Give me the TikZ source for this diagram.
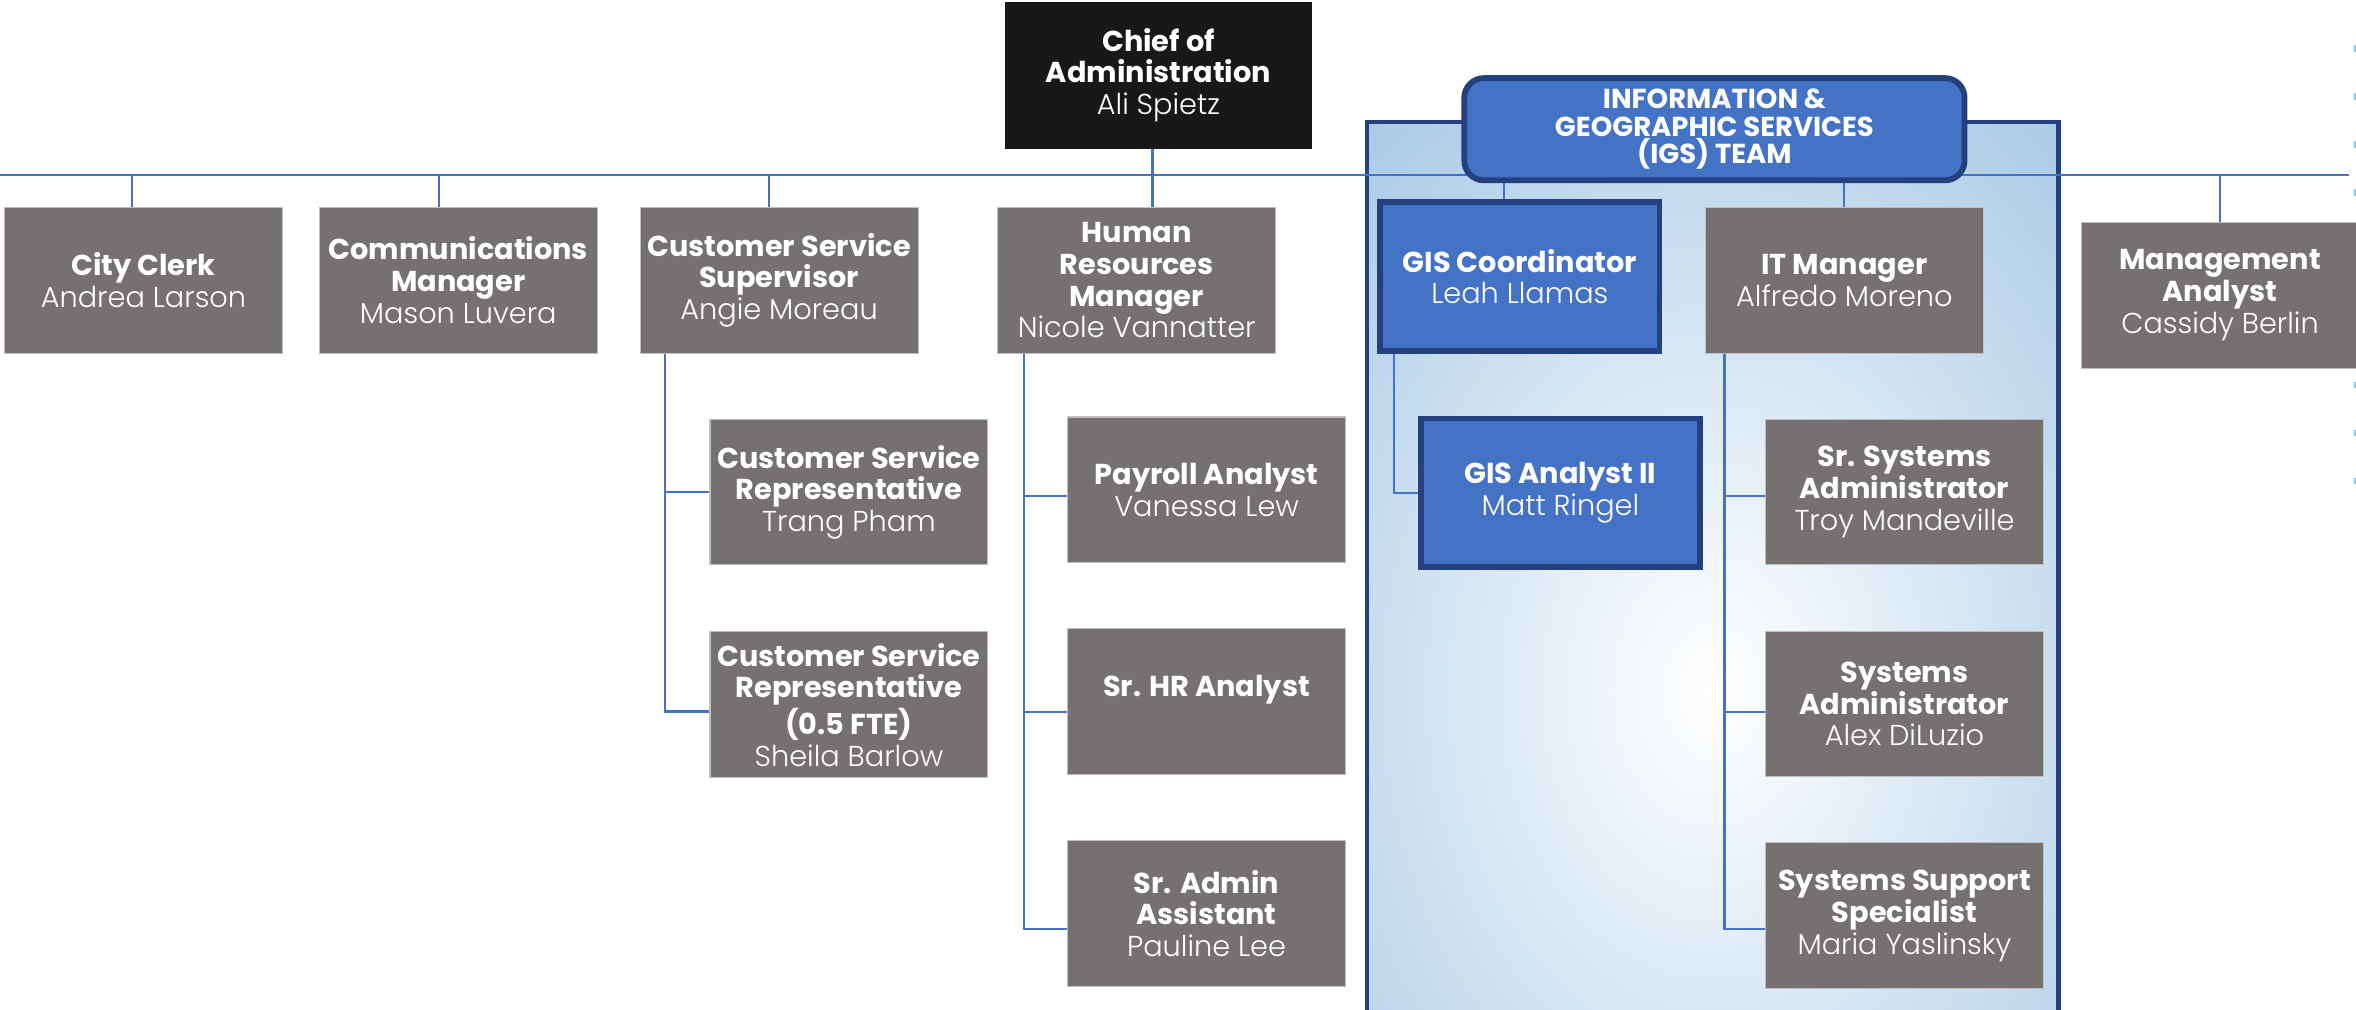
\documentclass[tikz,border=0pt]{standalone}
\usepackage{fontspec}
\setmainfont{Poppins}
\newfontfamily\namefont{Poppins Light}
\usetikzlibrary{positioning}

\definecolor{staffgray}{HTML}{767171}
\definecolor{chiefblack}{HTML}{181818}
\definecolor{igsblue}{HTML}{4472C4}
\definecolor{igsnavy}{HTML}{24407F}
\definecolor{linkblue}{HTML}{4472C4}
\definecolor{panelblue}{HTML}{9AC1E2}

\newcommand{\who}[1]{{\namefont #1}}

\begin{document}
\begin{tikzpicture}[x=0.02cm, y=-0.02cm,
                    staffbox/.style = {fill=staffgray, draw=black!25, line width=0.4pt,
                                       text=white, align=center, inner sep=1pt,
                                       minimum width=3.7cm, minimum height=1.94cm,
                                       font=\fontsize{10.9}{12}\selectfont},
                    igsbox/.style = {staffbox, fill=igsblue, draw=igsnavy, line width=2.2pt,
                                     minimum width=3.72cm, minimum height=1.98cm},
                    link/.style = {draw=linkblue, line width=0.8pt}
                   ]

    \useasboundingbox (0,0) rectangle (1568,672);

    % IGS team panel
    \fill[panelblue] (910,81) rectangle (1370,700);
    \begin{scope}
        \clip (910,81) rectangle (1370,700);
        \shade[inner color=white, outer color=panelblue] (1140,460) ellipse (430 and 580);
    \end{scope}
    \draw[igsnavy, line width=1.6pt] (910,81) rectangle (1370,700);

    % main bus
    \coordinate (busL) at (0,116.5);
    \coordinate (busR) at (1563,116.5);
    \draw[link, line width=1.1pt] (busL) -- (busR);

    % right edge marks
    \draw[panelblue, line width=0.8pt, dash pattern=on 0.09cm off 0.55cm] (1567.5,30) -- (1567.5,340);

    \node[fill=chiefblack, text=white, align=center, minimum width=4.08cm, minimum height=1.96cm,
          font=\fontsize{10.9}{12}\selectfont] (chief) at (771,50)
          {\textbf{Chief of}\\\textbf{Administration}\\\who{Ali Spietz}};

    \node[rounded corners=0.26cm, fill=igsblue, draw=igsnavy, line width=2.2pt, text=white,
          align=center, minimum width=6.66cm, minimum height=1.36cm,
          font=\fontsize{10.4}{10.3}\selectfont\bfseries] (igs) at (1141,86)
          {INFORMATION \&\\GEOGRAPHIC SERVICES\\(IGS) TEAM};

    % first row
    \node[staffbox] (clerk) at (95.5,186.5) {\textbf{City Clerk}\\\who{Andrea Larson}};
    \node[staffbox] (comms) at (305,186.5) {\textbf{Communications}\\\textbf{Manager}\\\who{Mason Luvera}};
    \node[staffbox] (css) at (518.5,186.5) {\textbf{Customer Service}\\\textbf{Supervisor}\\\who{Angie Moreau}};
    \node[staffbox] (hr) at (756.5,186.5) {\textbf{Human}\\\textbf{Resources}\\\textbf{Manager}\\\who{Nicole Vannatter}};
    \node[igsbox] (giscoord) at (1011.5,184) {\textbf{GIS Coordinator}\\\who{Leah Llamas}};
    \node[staffbox] (itman) at (1227.5,186.5) {\textbf{IT Manager}\\\who{Alfredo Moreno}};
    \node[staffbox] (mgmt) at (1477.5,196.5) {\textbf{Management}\\\textbf{Analyst}\\\who{Cassidy Berlin}};

    % customer service
    \node[staffbox] (csr) at (565,327.5) {\textbf{Customer Service}\\\textbf{Representative}\\\who{Trang Pham}};
    \node[staffbox] (csrhalf) at (565,469) {\textbf{Customer Service}\\\textbf{Representative}\\\textbf{(0.5 FTE)}\\\who{Sheila Barlow}};

    % human resources
    \node[staffbox] (payroll) at (803,326) {\textbf{Payroll Analyst}\\\who{Vanessa Lew}};
    \node[staffbox] (srhr) at (803,467) {\textbf{Sr. HR Analyst}\\\mbox{}};
    \node[staffbox] (sradmin) at (803,608) {\textbf{Sr. Admin}\\\textbf{Assistant}\\\who{Pauline Lee}};

    % IGS
    \node[igsbox] (gisanalyst) at (1038.5,328) {\textbf{GIS Analyst II}\\\who{Matt Ringel}};
    \node[staffbox] (srsys) at (1267.5,327.5) {\textbf{Sr. Systems}\\\textbf{Administrator}\\\who{Troy Mandeville}};
    \node[staffbox] (sysadmin) at (1267.5,468.5) {\textbf{Systems}\\\textbf{Administrator}\\\who{Alex DiLuzio}};
    \node[staffbox] (support) at (1267.5,609.5) {\textbf{Systems Support}\\\textbf{Specialist}\\\who{Maria Yaslinsky}};

    % drops from the bus
    \draw[link] ([xshift=-0.15cm]clerk.north) -- ([xshift=-0.15cm]clerk.north |- busL);
    \draw[link] ([xshift=-0.26cm]comms.north) -- ([xshift=-0.26cm]comms.north |- busL);
    \draw[link] ([xshift=-0.13cm]css.north) -- ([xshift=-0.13cm]css.north |- busL);
    \draw[link] ([xshift=-0.08cm]chief.south) -- ([xshift=-0.08cm]chief.south |- hr.north);
    \draw[link] (mgmt.north) -- (mgmt.north |- busL);
    \draw[link] (igs.south -| giscoord.north) ++(-0.21cm,0) -- ([xshift=-0.21cm]giscoord.north);
    \draw[link] (igs.south -| itman.north) -- (itman.north);

    % reports
    \draw[link] ([xshift=0.34cm]css.south west) |- (csr.west);
    \draw[link] ([xshift=0.34cm]css.south west) |- ([yshift=-0.09cm]csrhalf.west);

    \draw[link] ([xshift=0.36cm]hr.south west) |- ([yshift=-0.08cm]payroll.west);
    \draw[link] ([xshift=0.36cm]hr.south west) |- ([yshift=-0.14cm]srhr.west);
    \draw[link] ([xshift=0.36cm]hr.south west) |- ([yshift=-0.2cm]sradmin.west);

    \draw[link] ([xshift=0.22cm]giscoord.south west) |- (gisanalyst.west);

    \draw[link] ([xshift=0.26cm]itman.south west) |- ([yshift=-0.05cm]srsys.west);
    \draw[link] ([xshift=0.26cm]itman.south west) |- ([yshift=-0.11cm]sysadmin.west);
    \draw[link] ([xshift=0.26cm]itman.south west) |- ([yshift=-0.17cm]support.west);

\end{tikzpicture}
\end{document}
